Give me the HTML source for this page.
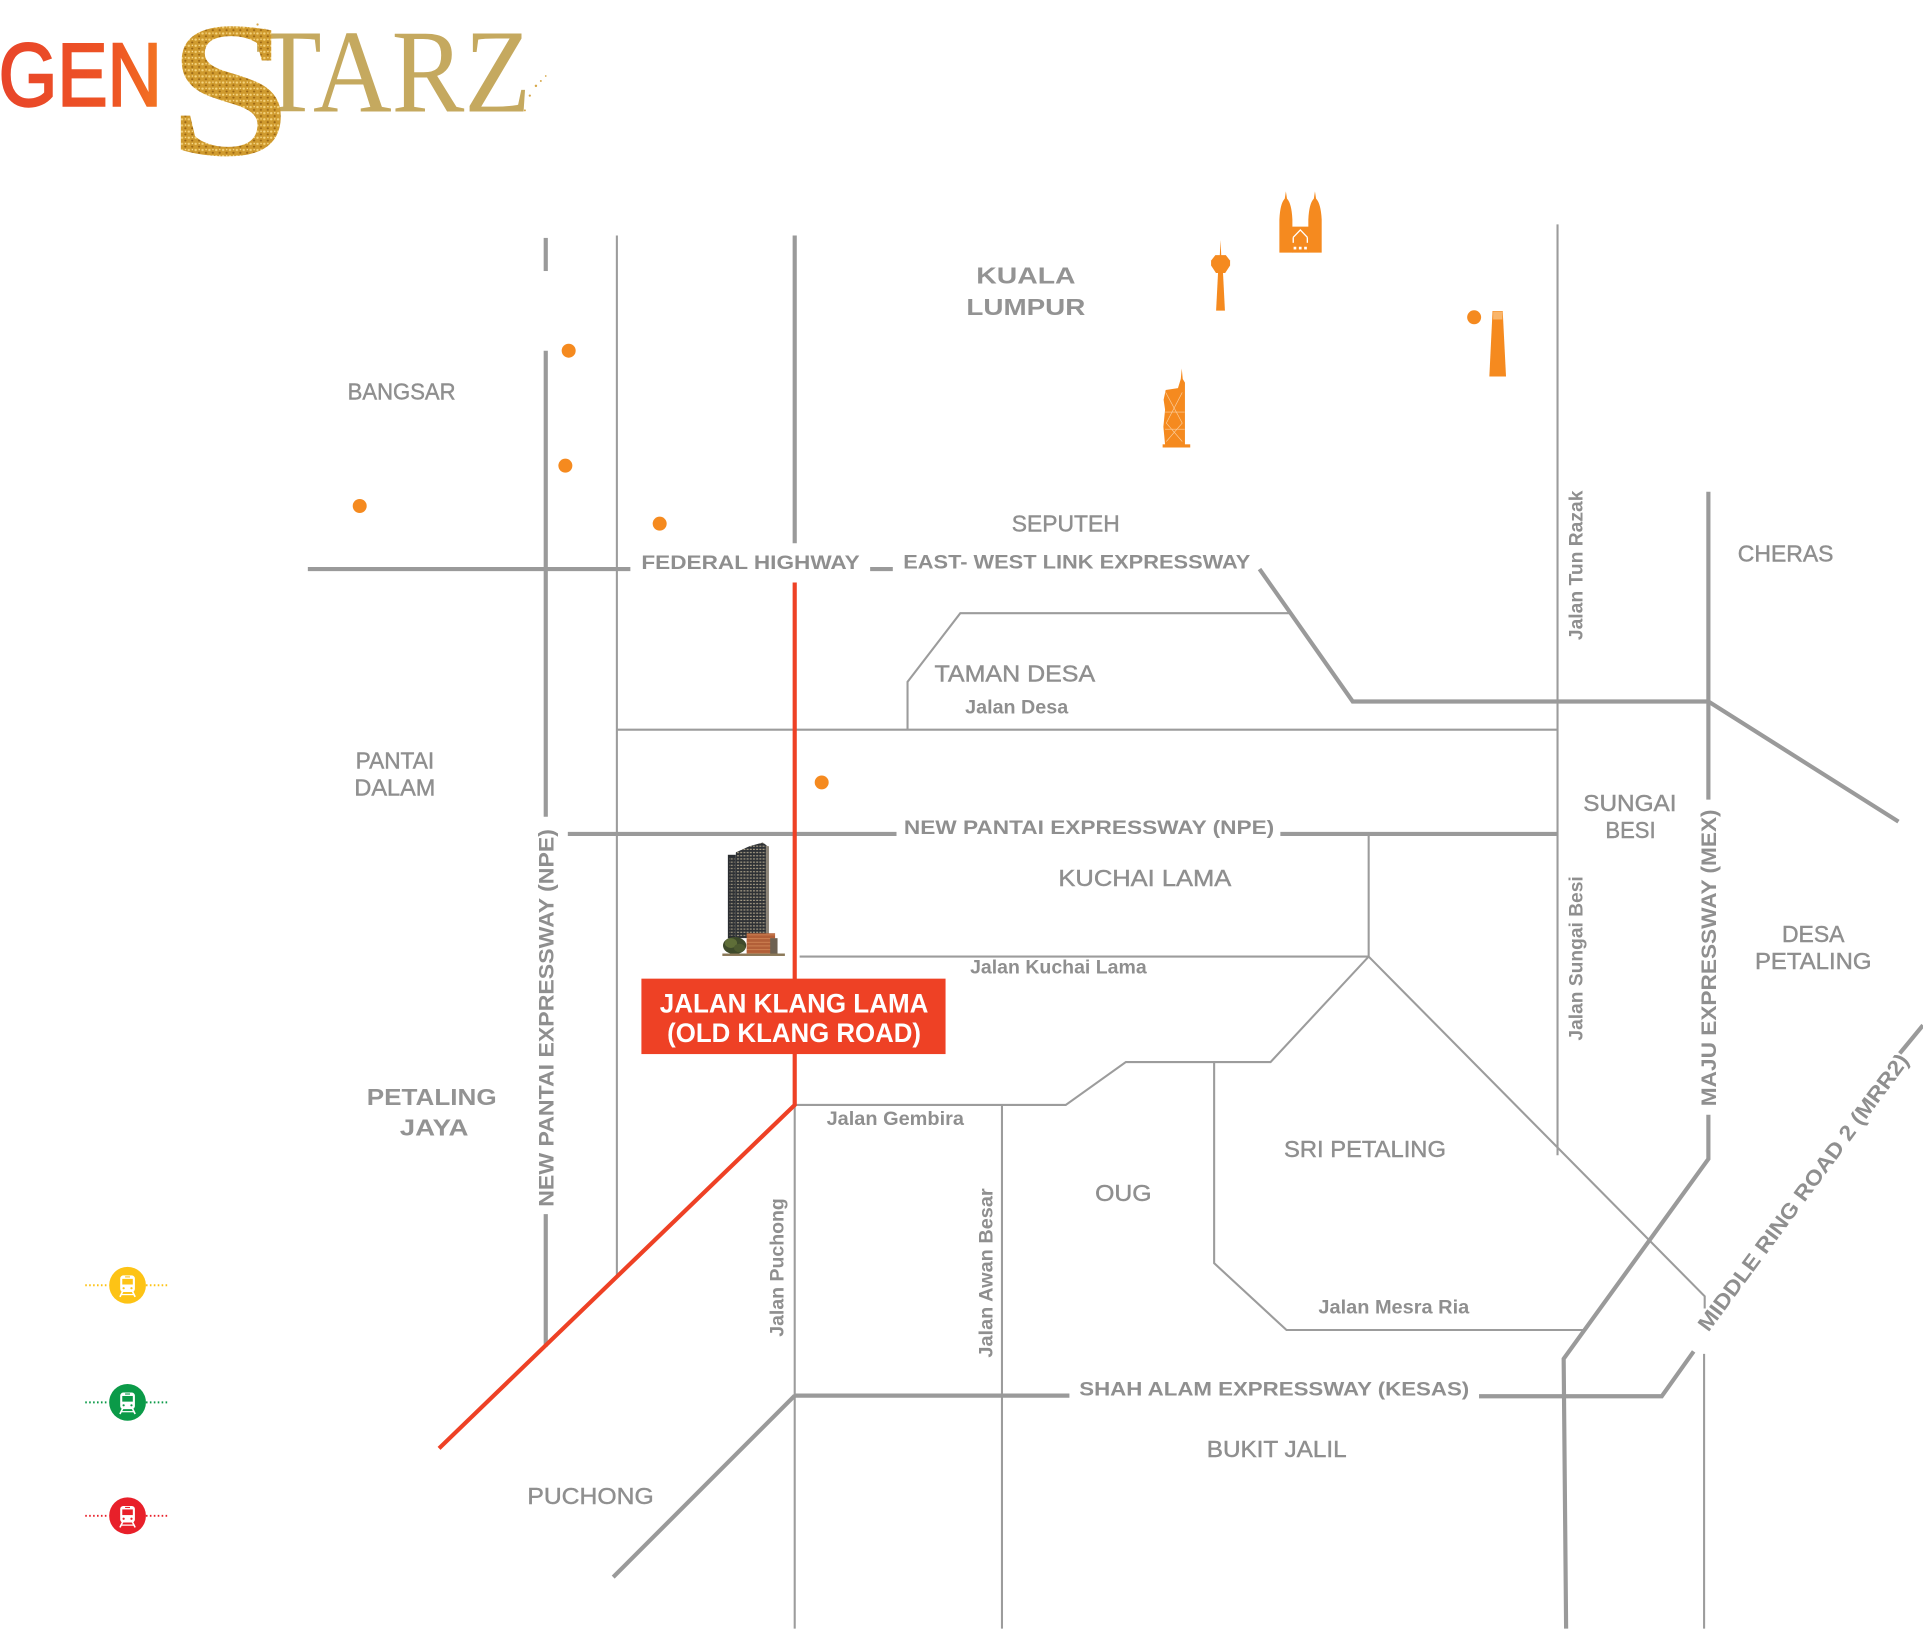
<!DOCTYPE html>
<html>
<head>
<meta charset="utf-8">
<style>
html,body{margin:0;padding:0;background:#fff;}
svg{display:block;}
.a{font-family:"Liberation Sans",Arial,sans-serif;font-size:18.5px;fill:#8f8f8f;stroke:#8f8f8f;stroke-width:0.35px;}
.r{font-family:"Liberation Sans",Arial,sans-serif;font-size:16px;font-weight:bold;fill:#8f8f8f;}
.j{font-family:"Liberation Sans",Arial,sans-serif;font-size:15.5px;font-weight:bold;fill:#8f8f8f;}
.b{font-family:"Liberation Sans",Arial,sans-serif;font-size:19px;font-weight:bold;fill:#939393;}
.v{font-family:"Liberation Sans",Arial,sans-serif;font-size:17.5px;font-weight:bold;fill:#8f8f8f;}
.w{font-family:"Liberation Sans",Arial,sans-serif;font-size:22px;font-weight:bold;fill:#fff;}
</style>
</head>
<body>
<svg xmlns="http://www.w3.org/2000/svg" width="1923" height="1629" viewBox="0 0 1568 1328.3" preserveAspectRatio="none">
<defs>
  <linearGradient id="gen" x1="0" y1="0" x2="1" y2="0">
    <stop offset="0" stop-color="#e8452a"/>
    <stop offset="0.7" stop-color="#ee5424"/>
    <stop offset="1" stop-color="#f37521"/>
  </linearGradient>
  <pattern id="gl" width="5" height="5" patternUnits="userSpaceOnUse">
    <rect width="5" height="5" fill="#cf9a2e"/>
    <circle cx="1.2" cy="1.3" r="0.9" fill="#f4d27a"/>
    <circle cx="3.7" cy="3.6" r="0.8" fill="#9a6512"/>
    <circle cx="3.8" cy="1" r="0.5" fill="#ffe9a8"/>
  </pattern>
  <pattern id="win" width="2.6" height="2.6" patternUnits="userSpaceOnUse">
    <rect width="2.6" height="2.6" fill="#2e3135"/>
    <rect x="0.4" y="0.5" width="1.6" height="1" fill="#cbbd9f" opacity="0.75"/>
  </pattern>
  <pattern id="pod" width="3" height="3" patternUnits="userSpaceOnUse">
    <rect width="3" height="3" fill="#b25f38"/>
    <rect x="0" y="0" width="3" height="0.6" fill="#d58a5a"/>
  </pattern>
</defs>

<!-- LOGO -->
<text x="-1" y="86" font-family="'Liberation Sans',Arial,sans-serif" font-size="72.5" fill="url(#gen)" stroke="url(#gen)" stroke-width="2" textLength="133" lengthAdjust="spacingAndGlyphs">GEN</text>
<text x="208" y="91" font-family="'Liberation Serif','Times New Roman',serif" font-size="97" fill="#c5a95f" textLength="225" lengthAdjust="spacingAndGlyphs">TARZ</text>
<g transform="translate(147,126) scale(1.12,1)">
  <text x="-8" y="0" font-family="'Liberation Serif','Times New Roman',serif" font-weight="bold" font-size="158" fill="url(#gl)">S</text>
</g>
<g fill="#d7a84a">
  <circle cx="437" cy="70" r="1"/><circle cx="441" cy="66" r="0.8"/><circle cx="432" cy="78" r="0.9"/>
  <circle cx="445" cy="62" r="0.7"/><circle cx="428" cy="90" r="0.8"/><circle cx="210" cy="20" r="0.9"/>
  <circle cx="216" cy="24" r="0.7"/><circle cx="222" cy="30" r="0.8"/>
</g>

<!-- THIN ROADS -->
<g stroke="#9c9c9c" stroke-width="1.7" fill="none" stroke-linejoin="miter">
  <line x1="503" y1="192" x2="503" y2="1041"/>
  <line x1="503" y1="595" x2="1270" y2="595"/>
  <polyline points="740,595 740,556 783,500 1052,500"/>
  <line x1="1270" y1="183" x2="1270" y2="942"/>
  <line x1="652" y1="780" x2="1116" y2="780"/>
  <line x1="1116" y1="680" x2="1116" y2="780"/>
  <polyline points="648,901 869,901 918,866 1036,866 1116,780 1390,1057 1390,1067"/>
  <line x1="648" y1="900" x2="648" y2="1328"/>
  <line x1="817" y1="901" x2="817" y2="1328"/>
  <polyline points="990,866 990,1030 1049,1084.5 1293,1084.5"/>
  <line x1="1389.5" y1="1104" x2="1389.5" y2="1328"/>
</g>

<!-- THICK ROADS -->
<g stroke="#9a9a9a" stroke-width="3.4" fill="none" stroke-linejoin="miter">
  <line x1="445" y1="194" x2="445" y2="221"/>
  <line x1="445" y1="286" x2="445" y2="666"/>
  <line x1="445" y1="990" x2="445" y2="1098"/>
  <line x1="251" y1="464" x2="514" y2="464"/>
  <line x1="709.5" y1="464" x2="728" y2="464"/>
  <line x1="648" y1="192" x2="648" y2="443"/>
  <polyline points="1027,464 1103,572 1393,572 1548,670"/>
  <line x1="1393" y1="401" x2="1393" y2="652"/>
  <polyline points="1393,909 1393,945 1275,1108 1277,1328"/>
  <line x1="463" y1="680" x2="731" y2="680"/>
  <line x1="1044" y1="680" x2="1270" y2="680"/>
  <line x1="648" y1="1138" x2="872" y2="1138"/>
  <line x1="648" y1="1138" x2="500" y2="1286"/>
  <polyline points="1206,1138.5 1355,1138.5 1381,1102"/>
  <line x1="1549" y1="859" x2="1568" y2="836"/>
</g>

<!-- RED ROAD -->
<polyline points="648,475 648,901 358,1181" stroke="#ee4125" stroke-width="3.4" fill="none" stroke-linejoin="miter"/>

<!-- BUILDING -->
<g>
  <rect x="593.5" y="697" width="6.5" height="68" fill="#2a2d31"/>
  <rect x="594.5" y="699" width="4.5" height="64" fill="url(#win)" opacity="0.9"/>
  <polygon points="600,695 611,690 622,687 626,690 626,765 600,765" fill="url(#win)"/>
  <rect x="624.5" y="690" width="2.5" height="75" fill="#8d8578"/>
  <rect x="608.8" y="761" width="23.2" height="17" fill="url(#pod)"/>
  <rect x="628" y="765" width="6" height="13" fill="#6d6152"/>
  <ellipse cx="599" cy="771" rx="9.5" ry="7" fill="#3e4a2b"/>
  <ellipse cx="596" cy="769" rx="5" ry="4" fill="#5f6e38"/>
  <ellipse cx="603" cy="773" rx="4.5" ry="3.5" fill="#4d5a30"/>
  <rect x="589" y="777.5" width="51" height="2" fill="#8a7858"/>
</g>

<!-- RED LABEL BOX -->
<rect x="523" y="798" width="248" height="61.5" fill="#ee4125"/>
<text class="w" x="538" y="825.7" textLength="219" lengthAdjust="spacingAndGlyphs">JALAN KLANG LAMA</text>
<text class="w" x="544" y="849.5" textLength="207" lengthAdjust="spacingAndGlyphs">(OLD KLANG ROAD)</text>

<!-- ORANGE DOTS -->
<g fill="#f58a1f">
  <circle cx="463.7" cy="286" r="5.7"/>
  <circle cx="461" cy="379.7" r="5.7"/>
  <circle cx="293.3" cy="412.6" r="5.7"/>
  <circle cx="537.9" cy="427" r="5.7"/>
  <circle cx="670" cy="638" r="5.7"/>
  <circle cx="1202" cy="258.7" r="5.7"/>
</g>

<!-- LANDMARKS -->
<g fill="#f58a1f">
  <path d="M1043.2,206 L1043.2,179 Q1043.8,166 1047.6,162 L1048.5,156 L1049.4,162 Q1053.2,166 1053.8,179 L1053.8,206 Z"/>
  <path d="M1066.8,206 L1066.8,179 Q1067.4,166 1071.3,162 L1072.2,156 L1073.1,162 Q1077,166 1077.7,179 L1077.7,206 Z"/>
  <rect x="1053.5" y="184.8" width="13.6" height="21.2"/>
  <polygon points="994.6,208.5 995.2,195.7 995.8,208.5"/>
  <polygon points="991,208 999.5,208 1003,212.5 1003,216.5 999,222.6 991.5,222.6 987.5,216.5 987.5,212.5"/>
  <polygon points="993.2,222 997.2,222 998.8,253.3 991.6,253.3"/>
  <polygon points="950.5,318 960.5,316.5 962.8,309 963.6,300.5 964.4,309 966.2,312 966.2,362.5 950,362.5 948.6,348 950,334 948.8,326"/>
  <rect x="948" y="362.3" width="22.5" height="2.6"/>
  <polygon points="1217,253.6 1225.3,253.6 1228,307 1214.4,307"/>
</g>
<g stroke="#fff" fill="none" stroke-width="1.1">
  <polyline points="1054.5,193.5 1060.3,187.5 1066,193.5"/>
  <line x1="1054.5" y1="193.5" x2="1054.5" y2="198"/>
  <line x1="1066" y1="193.5" x2="1066" y2="198"/>
</g>
<g fill="#fff">
  <rect x="1054.8" y="201.2" width="2.2" height="2.2"/>
  <rect x="1059.1" y="201.2" width="2.2" height="2.2"/>
  <rect x="1063.4" y="201.2" width="2.2" height="2.2"/>
  <rect x="1217.5" y="254" width="7.5" height="6.5" fill="#f9b56a"/>
</g>
<g stroke="#fbd0a0" stroke-width="0.5" fill="none">
  <polyline points="950.5,320 964,345 951,360"/>
  <polyline points="964,320 951,345 964,360"/>
  <line x1="950" y1="336" x2="966" y2="336"/>
  <line x1="950" y1="350" x2="966" y2="350"/>
</g>

<!-- AREA LABELS -->
<text class="a" x="283.5" y="325.6" textLength="88" lengthAdjust="spacingAndGlyphs">BANGSAR</text>
<text class="a" x="825" y="433.5" textLength="88" lengthAdjust="spacingAndGlyphs">SEPUTEH</text>
<text class="a" x="1417" y="458" textLength="78" lengthAdjust="spacingAndGlyphs">CHERAS</text>
<text class="a" x="762" y="555.8" textLength="131" lengthAdjust="spacingAndGlyphs">TAMAN DESA</text>
<text class="a" x="290" y="626.5" textLength="64" lengthAdjust="spacingAndGlyphs">PANTAI</text>
<text class="a" x="289" y="648.5" textLength="66" lengthAdjust="spacingAndGlyphs">DALAM</text>
<text class="a" x="1291" y="661.5" textLength="76" lengthAdjust="spacingAndGlyphs">SUNGAI</text>
<text class="a" x="1309" y="683.5" textLength="41" lengthAdjust="spacingAndGlyphs">BESI</text>
<text class="a" x="863" y="722.5" textLength="141" lengthAdjust="spacingAndGlyphs">KUCHAI LAMA</text>
<text class="a" x="1453" y="768" textLength="51" lengthAdjust="spacingAndGlyphs">DESA</text>
<text class="a" x="1431" y="790" textLength="95" lengthAdjust="spacingAndGlyphs">PETALING</text>
<text class="a" x="1047" y="943.5" textLength="132" lengthAdjust="spacingAndGlyphs">SRI PETALING</text>
<text class="a" x="893" y="979.5" textLength="46" lengthAdjust="spacingAndGlyphs">OUG</text>
<text class="a" x="984" y="1188" textLength="114" lengthAdjust="spacingAndGlyphs">BUKIT JALIL</text>
<text class="a" x="430" y="1226.5" textLength="103" lengthAdjust="spacingAndGlyphs">PUCHONG</text>

<text class="b" x="796" y="231" textLength="81" lengthAdjust="spacingAndGlyphs">KUALA</text>
<text class="b" x="788" y="256.8" textLength="97" lengthAdjust="spacingAndGlyphs">LUMPUR</text>
<text class="b" x="299" y="901" textLength="106" lengthAdjust="spacingAndGlyphs">PETALING</text>
<text class="b" x="326" y="926" textLength="56" lengthAdjust="spacingAndGlyphs">JAYA</text>

<!-- ROAD LABELS -->
<text class="r" x="523" y="464" textLength="178" lengthAdjust="spacingAndGlyphs">FEDERAL HIGHWAY</text>
<text class="r" x="736.5" y="463.5" textLength="283" lengthAdjust="spacingAndGlyphs">EAST- WEST LINK EXPRESSWAY</text>
<text class="r" x="737" y="680" textLength="302" lengthAdjust="spacingAndGlyphs">NEW PANTAI EXPRESSWAY (NPE)</text>
<text class="r" x="880" y="1138" textLength="318" lengthAdjust="spacingAndGlyphs">SHAH ALAM EXPRESSWAY (KESAS)</text>

<text class="j" x="787" y="581.6" textLength="84" lengthAdjust="spacingAndGlyphs">Jalan Desa</text>
<text class="j" x="791" y="794" textLength="144" lengthAdjust="spacingAndGlyphs">Jalan Kuchai Lama</text>
<text class="j" x="674" y="917.3" textLength="112" lengthAdjust="spacingAndGlyphs">Jalan Gembira</text>
<text class="j" x="1075" y="1071" textLength="123" lengthAdjust="spacingAndGlyphs">Jalan Mesra Ria</text>

<!-- ROTATED LABELS -->
<text class="j" transform="translate(1285,461) rotate(-90)" x="-61" y="5.5" textLength="122" lengthAdjust="spacingAndGlyphs">Jalan Tun Razak</text>
<text class="j" transform="translate(1285,781.5) rotate(-90)" x="-67" y="5.5" textLength="134" lengthAdjust="spacingAndGlyphs">Jalan Sungai Besi</text>
<text class="j" transform="translate(633.4,1033.5) rotate(-90)" x="-56.5" y="5.5" textLength="113" lengthAdjust="spacingAndGlyphs">Jalan Puchong</text>
<text class="j" transform="translate(803.7,1038) rotate(-90)" x="-69" y="5.5" textLength="138" lengthAdjust="spacingAndGlyphs">Jalan Awan Besar</text>
<text class="v" transform="translate(1393,781) rotate(-90)" x="-121" y="6.3" textLength="242" lengthAdjust="spacingAndGlyphs">MAJU EXPRESSWAY (MEX)</text>
<text class="v" transform="translate(445,830) rotate(-90)" x="-154" y="6.3" textLength="308" lengthAdjust="spacingAndGlyphs">NEW PANTAI EXPRESSWAY  (NPE)</text>
<text class="v" transform="translate(1470,972) rotate(-53.5)" x="-138" y="6.3" textLength="276" lengthAdjust="spacingAndGlyphs">MIDDLE RING ROAD 2 (MRR2)</text>

<!-- LEGEND -->
<g>
  <line x1="69.5" y1="1048" x2="88" y2="1048" stroke="#fdc315" stroke-width="1.6" stroke-dasharray="1.3 1.9"/>
  <line x1="119" y1="1048" x2="137" y2="1048" stroke="#fdc315" stroke-width="1.6" stroke-dasharray="1.3 1.9"/>
  <circle cx="104" cy="1048" r="15" fill="#fdc315"/>
  <line x1="69.5" y1="1143.5" x2="88" y2="1143.5" stroke="#0b9a48" stroke-width="1.6" stroke-dasharray="1.3 1.9"/>
  <line x1="119" y1="1143.5" x2="137" y2="1143.5" stroke="#0b9a48" stroke-width="1.6" stroke-dasharray="1.3 1.9"/>
  <circle cx="104" cy="1143.5" r="15" fill="#0b9a48"/>
  <line x1="69.5" y1="1236" x2="88" y2="1236" stroke="#e8202a" stroke-width="1.6" stroke-dasharray="1.3 1.9"/>
  <line x1="119" y1="1236" x2="137" y2="1236" stroke="#e8202a" stroke-width="1.6" stroke-dasharray="1.3 1.9"/>
  <circle cx="104" cy="1236" r="15" fill="#e8202a"/>
</g>
<g transform="translate(104,1048)">
  <rect x="-6" y="-8" width="12" height="13.5" rx="2.5" fill="#fff"/>
  <rect x="-4.3" y="-5.2" width="8.6" height="4.6" fill="#fdc315"/>
  <line x1="-2" y1="-6.8" x2="2" y2="-6.8" stroke="#fdc315" stroke-width="0.9"/>
  <circle cx="-3.2" cy="2.4" r="0.9" fill="#fdc315"/>
  <circle cx="3.2" cy="2.4" r="0.9" fill="#fdc315"/>
  <g stroke="#fff" stroke-width="1.3"><line x1="-4" y1="5" x2="-6.2" y2="9.5"/><line x1="4" y1="5" x2="6.2" y2="9.5"/><line x1="-5" y1="7.6" x2="5" y2="7.6" stroke-width="1"/></g>
</g>
<g transform="translate(104,1143.5)">
  <rect x="-6" y="-8" width="12" height="13.5" rx="2.5" fill="#fff"/>
  <rect x="-4.3" y="-5.2" width="8.6" height="4.6" fill="#0b9a48"/>
  <line x1="-2" y1="-6.8" x2="2" y2="-6.8" stroke="#0b9a48" stroke-width="0.9"/>
  <circle cx="-3.2" cy="2.4" r="0.9" fill="#0b9a48"/>
  <circle cx="3.2" cy="2.4" r="0.9" fill="#0b9a48"/>
  <g stroke="#fff" stroke-width="1.3"><line x1="-4" y1="5" x2="-6.2" y2="9.5"/><line x1="4" y1="5" x2="6.2" y2="9.5"/><line x1="-5" y1="7.6" x2="5" y2="7.6" stroke-width="1"/></g>
</g>
<g transform="translate(104,1236)">
  <rect x="-6" y="-8" width="12" height="13.5" rx="2.5" fill="#fff"/>
  <rect x="-4.3" y="-5.2" width="8.6" height="4.6" fill="#e8202a"/>
  <line x1="-2" y1="-6.8" x2="2" y2="-6.8" stroke="#e8202a" stroke-width="0.9"/>
  <circle cx="-3.2" cy="2.4" r="0.9" fill="#e8202a"/>
  <circle cx="3.2" cy="2.4" r="0.9" fill="#e8202a"/>
  <g stroke="#fff" stroke-width="1.3"><line x1="-4" y1="5" x2="-6.2" y2="9.5"/><line x1="4" y1="5" x2="6.2" y2="9.5"/><line x1="-5" y1="7.6" x2="5" y2="7.6" stroke-width="1"/></g>
</g>
</svg>
</body>
</html>
